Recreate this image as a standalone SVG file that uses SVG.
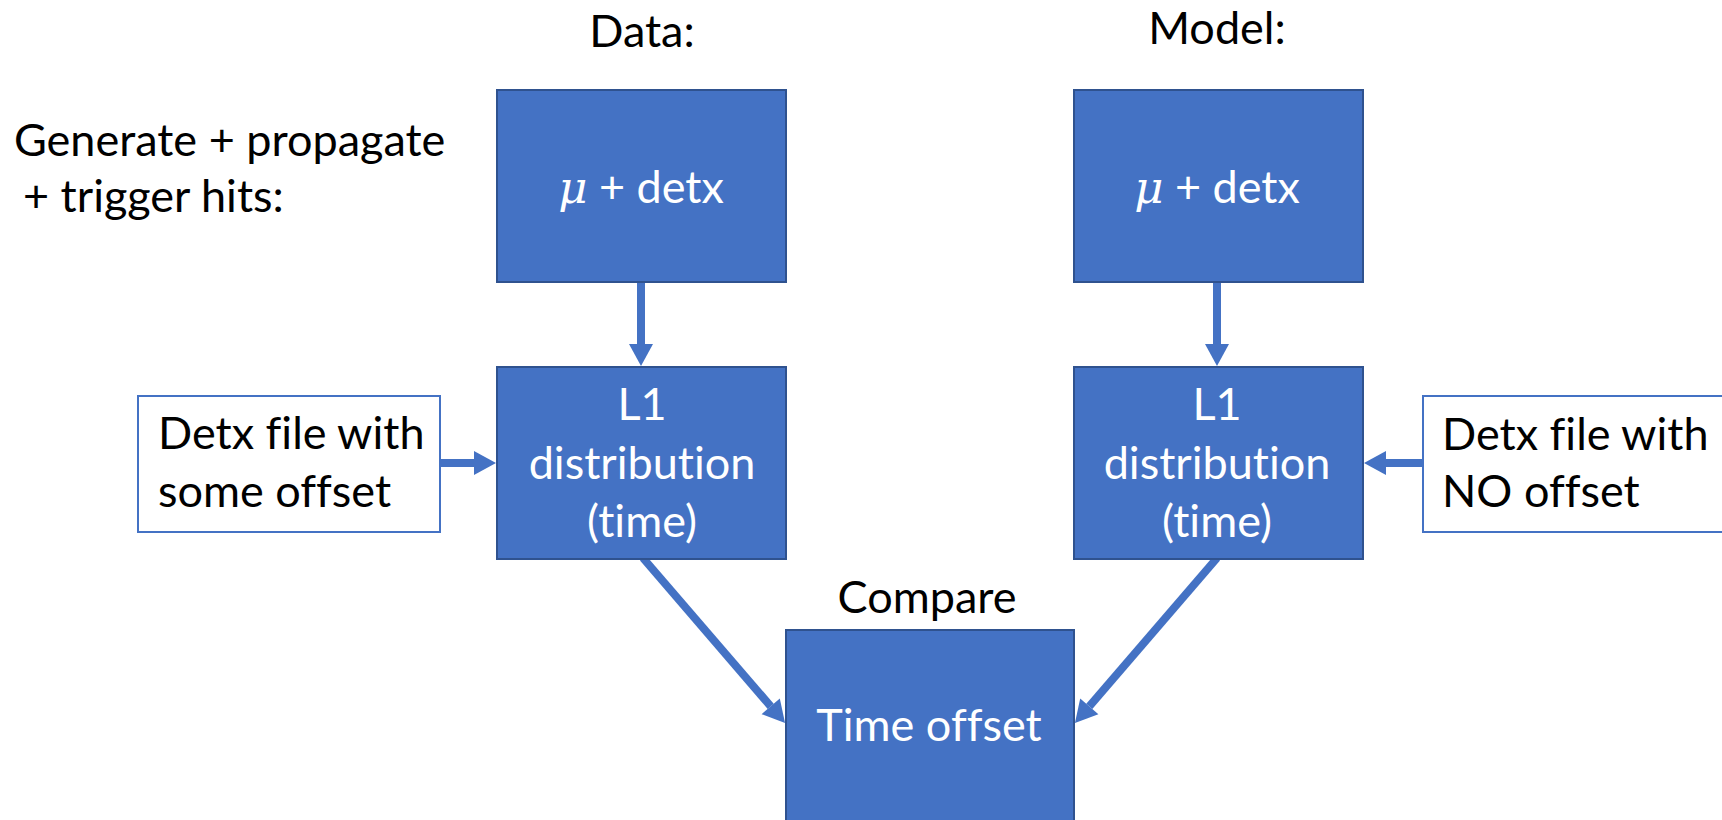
<svg xmlns="http://www.w3.org/2000/svg" width="1722" height="820" viewBox="0 0 1722 820">
  <style>
    .box { fill: #4472C4; stroke: #2F528F; stroke-width: 2; }
    .input { fill: #FFFFFF; stroke: #4472C4; stroke-width: 2; }
    .txt { font-family: Lato, "Liberation Sans", sans-serif; font-size: 45px; font-variant-ligatures: none; }
    .w { fill: #FFFFFF; }
    .k { fill: #000000; }
    .mid { text-anchor: middle; }
    .mu { font-family: "DejaVu Serif", "Liberation Serif", serif; font-style: italic; }
    .link { stroke: #4472C4; stroke-width: 8; fill: none; marker-end: url(#head); }
  </style>
  <defs>
    <marker id="head" markerUnits="userSpaceOnUse" markerWidth="24" markerHeight="26" viewBox="0 -13 23 26" refX="0" refY="0" orient="auto">
      <path d="M0,-12 L22,0 L0,12 Z" fill="#4472C4"/>
    </marker>
  </defs>

  <rect width="1722" height="820" fill="#FFFFFF"/>

  <!-- headings -->
  <g id="heading-data">
    <text class="txt k mid" x="642" y="47">Data:</text>
  </g>
  <g id="heading-model">
    <text class="txt k mid" x="1217" y="44">Model:</text>
  </g>
  <g id="heading-generate">
    <text class="txt k" x="14" y="156">Generate + propagate</text>
    <text class="txt k" x="23" y="212">+ trigger hits:</text>
  </g>

  <!-- connectors -->
  <g id="connectors">
    <line class="link" x1="641" y1="282" x2="641" y2="344"/>
    <line class="link" x1="1217" y1="282" x2="1217" y2="344"/>
    <line class="link" x1="440" y1="463" x2="474" y2="463"/>
    <line class="link" x1="1422" y1="463" x2="1386" y2="463"/>
    <line class="link" x1="643" y1="558" x2="770.7" y2="706.3"/>
    <line class="link" x1="1217" y1="558" x2="1089.3" y2="706.3"/>
  </g>

  <!-- data branch -->
  <g id="data-source">
    <rect class="box" x="497" y="90" width="289" height="192"/>
    <text class="txt w mid" x="641" y="203"><tspan class="mu">μ</tspan> + detx</text>
  </g>
  <g id="data-l1">
    <rect class="box" x="497" y="367" width="289" height="192"/>
    <text class="txt w mid" x="642" y="420">L1</text>
    <text class="txt w mid" x="642" y="479">distribution</text>
    <text class="txt w mid" x="642" y="537">(time)</text>
  </g>
  <g id="data-detx">
    <rect class="input" x="138" y="396" width="302" height="136"/>
    <text class="txt k" x="158" y="449">Detx file with</text>
    <text class="txt k" x="158" y="507">some offset</text>
  </g>

  <!-- model branch -->
  <g id="model-source">
    <rect class="box" x="1074" y="90" width="289" height="192"/>
    <text class="txt w mid" x="1217" y="203"><tspan class="mu">μ</tspan> + detx</text>
  </g>
  <g id="model-l1">
    <rect class="box" x="1074" y="367" width="289" height="192"/>
    <text class="txt w mid" x="1217" y="420">L1</text>
    <text class="txt w mid" x="1217" y="479">distribution</text>
    <text class="txt w mid" x="1217" y="537">(time)</text>
  </g>
  <g id="model-detx">
    <rect class="input" x="1423" y="396" width="310" height="136"/>
    <text class="txt k" x="1442" y="450">Detx file with</text>
    <text class="txt k" x="1442" y="507">NO offset</text>
  </g>

  <!-- comparison -->
  <g id="compare">
    <text class="txt k mid" x="927" y="613">Compare</text>
    <rect class="box" x="786" y="630" width="288" height="200"/>
    <text class="txt w mid" x="929" y="741">Time offset</text>
  </g>
</svg>
